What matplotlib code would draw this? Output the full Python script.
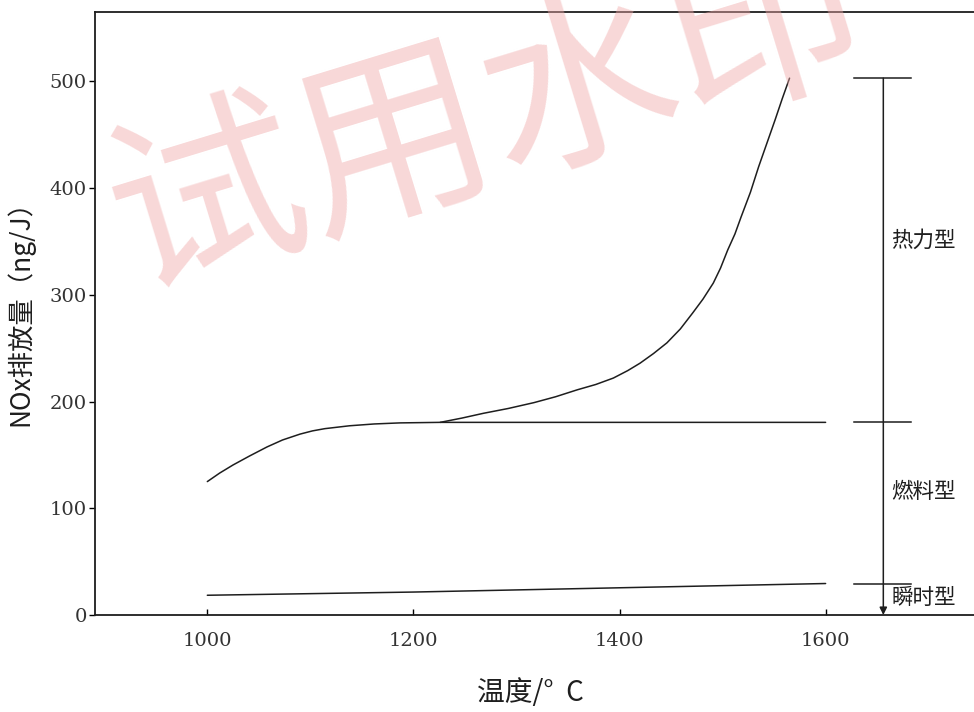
import matplotlib
matplotlib.use("Agg")
import matplotlib.pyplot as plt

# ---- data ----
x_base = [1000, 1012, 1025, 1041, 1058, 1073, 1090, 1102, 1114, 1138, 1162, 1187,
          1226, 1300, 1400, 1500, 1600]
y_base = [125, 133, 140.6, 149, 157.5, 164, 169.5, 172.5, 174.6, 177.3, 179, 180,
          180.5, 180.5, 180.5, 180.5, 180.5]

x_thermal = [1226, 1247, 1268, 1292, 1317, 1338, 1359, 1377, 1394, 1408, 1420,
             1433, 1446, 1459, 1471, 1481, 1491, 1498, 1505, 1512, 1518, 1527,
             1535, 1543, 1551, 1558, 1565]
y_thermal = [180.5, 184.5, 189, 193.5, 199, 204.5, 211, 216, 222, 229, 236,
             245, 255, 268, 283, 296, 311, 325, 342, 357, 373, 396,
             420, 442, 464, 484, 503]

x_prompt = [1000, 1100, 1200, 1300, 1400, 1500, 1600]
y_prompt = [18.5, 20, 21.5, 23.5, 25.5, 27.5, 29.5]

x_ticks = [1000, 1200, 1400, 1600]
y_ticks = [0, 100, 200, 300, 400, 500]

type_labels = ["热力型", "燃料型", "瞬时型"]
label_y = [351, 115, 16]
bracket_x = 1656

CJK = ["Noto Sans CJK SC", "DejaVu Sans"]
SERIF = "DejaVu Serif"
INK = "#1e1e1e"

fig = plt.figure(figsize=(9.74, 7.12), dpi=100)
ax = fig.add_axes([95 / 974, 1 - 615 / 712, 879 / 974, 603 / 712])
ax.set_xlim(891, 1744)
ax.set_ylim(0, 565)

line_kw = dict(color=INK, lw=1.1, solid_joinstyle="round", solid_capstyle="round")
ax.plot(x_base, y_base, **line_kw)
ax.plot(x_thermal, y_thermal, **line_kw)
ax.plot(x_prompt, y_prompt, **line_kw)

# bracket on the right
levels = [max(y_thermal), y_base[-1], y_prompt[-1]]
for lv in levels:
    ax.plot([bracket_x - 28, bracket_x + 27], [lv, lv], color=INK, lw=1.1)
ax.annotate("", xy=(bracket_x, 0), xytext=(bracket_x, levels[0]),
            arrowprops=dict(arrowstyle="-|>", lw=1.1, color=INK,
                            mutation_scale=11, shrinkA=0, shrinkB=0))
for lab, ly in zip(type_labels, label_y):
    ax.text(bracket_x + 8, ly, lab, fontsize=15.5, family=CJK, color=INK,
            ha="left", va="center")

ax.set_xticks(x_ticks)
ax.set_yticks(y_ticks)
ax.set_xticklabels([str(v) for v in x_ticks], family=SERIF, fontsize=14, color="#333333")
ax.set_yticklabels([str(v) for v in y_ticks], family=SERIF, fontsize=14, color="#333333")
ax.tick_params(axis="x", direction="in", length=4, pad=12, width=1)
ax.tick_params(axis="y", direction="out", length=4, pad=2, width=1)
ax.spines["right"].set_visible(False)
for s in ["left", "top", "bottom"]:
    ax.spines[s].set_linewidth(1.3)
    ax.spines[s].set_color(INK)

fig.text(530 / 974, 1 - 693 / 712, "温度/°  C", family=CJK, fontsize=20,
         ha="center", va="center", color=INK)
fig.text(20 / 974, 1 - 306 / 712, "NOx排放量（ng/J）", family=CJK, fontsize=19,
         rotation=90, ha="center", va="center", color=INK)

# watermark
fig.text(0.50, 0.835, "试用水印", family=CJK, fontsize=140, color="#f0a8a8",
         alpha=0.45, rotation=17, ha="center", va="center", zorder=10)

fig.savefig("out.png", dpi=100)
